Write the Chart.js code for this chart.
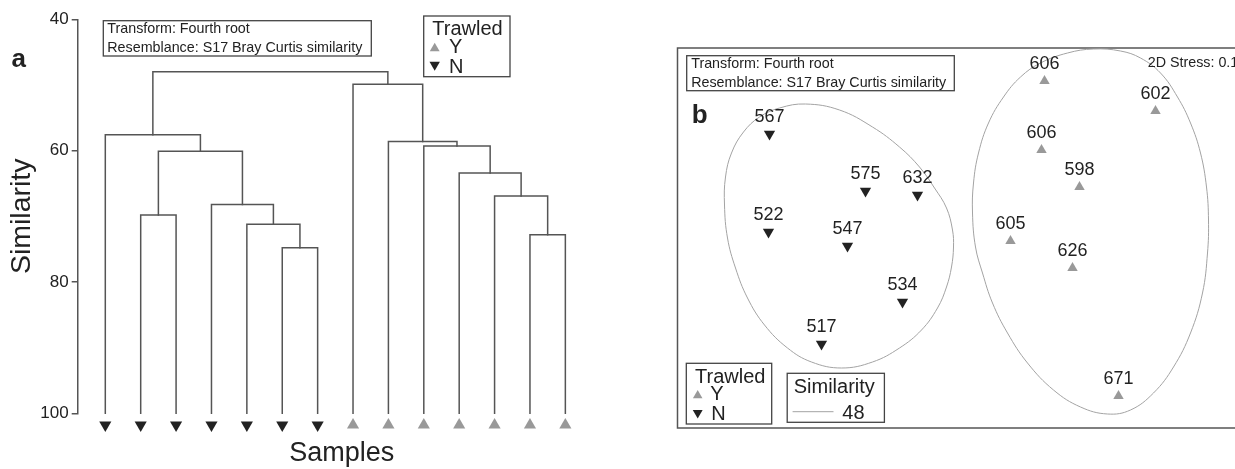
<!DOCTYPE html>
<html>
<head>
<meta charset="utf-8">
<script src="https://cdn.jsdelivr.net/npm/chart.js@4.4.1/dist/chart.umd.min.js"></script>
<style>
html,body{margin:0;padding:0;background:#fff;overflow:hidden;}
#wrap{position:relative;width:1235px;height:469px;overflow:hidden;background:#fff;}
canvas{position:absolute;top:0;}
</style>
</head>
<body>
<div id="wrap">
<canvas id="ca" width="640" height="469" style="left:0"></canvas>
<canvas id="cb" width="668" height="469" style="left:640px"></canvas>
</div>
<script>
// ---------- Panel a: dendrogram data ----------
const leafTrawled = ['N','N','N','N','N','N','N','Y','Y','Y','Y','Y','Y','Y'];
// merges: negative = leaf index (1-based, in plot order), positive = earlier merge (1-based)
const mergeA   = [-6, -5, -4, -2, 4, -1, -13, -12, -11, -10, -9, -8, 6];
const mergeB   = [-7,  1,  2, -3, 3,  5, -14,   7,   8,   9, 10, 11, 12];
const mergeSim = [74.8, 71.2, 68.2, 69.8, 60.1, 57.6, 72.8, 66.9, 63.4, 59.3, 58.6, 49.9, 48.0];
const simTicks = [40, 60, 80, 100];

// ---------- Panel b: nMDS data ----------
const mdsLabelsN = ['567','575','632','522','547','534','517'];
const mdsXN = [-1.88, -0.92, -0.40, -1.89, -1.10, -0.55, -1.36];
const mdsYN = [ 1.04,  0.47,  0.43,  0.06, -0.08, -0.64, -1.06];
const mdsLabelsY = ['606','602','606','598','605','626','671'];
const mdsXY = [0.87, 1.98, 0.84, 1.22, 0.53, 1.15, 1.61];
const mdsYY = [1.57, 1.27, 0.88, 0.51, -0.03, -0.30, -1.58];
const contourLevel = 48;
const contour1X = [-1.52,-1.18,-0.85,-0.58,-0.38,-0.23,-0.11,-0.05,-0.04,-0.06,-0.11,-0.20,-0.36,-0.58,-0.85,-1.16,-1.46,-1.70,-1.93,-2.10,-2.22,-2.30,-2.33,-2.32,-2.26,-2.14,-1.98,-1.78];
const contour1Y = [ 1.34, 1.28, 1.11, 0.91, 0.71, 0.50, 0.30, 0.08,-0.09,-0.29,-0.49,-0.70,-0.92,-1.10,-1.24,-1.30,-1.24,-1.10,-0.87,-0.60,-0.30, 0.00, 0.33, 0.61, 0.85, 1.06, 1.21, 1.30];
const contour2X = [1.36,1.63,1.83,2.03,2.20,2.33,2.43,2.49,2.51,2.50,2.45,2.33,2.16,1.96,1.73,1.50,1.23,0.96,0.70,0.50,0.35,0.25,0.18,0.15,0.16,0.21,0.31,0.46,0.63,0.83,1.10];
const contour2Y = [1.89,1.87,1.80,1.65,1.41,1.15,0.85,0.51,0.18,-0.15,-0.55,-0.95,-1.29,-1.55,-1.72,-1.76,-1.69,-1.52,-1.25,-0.95,-0.65,-0.35,-0.09,0.25,0.55,0.85,1.15,1.41,1.61,1.75,1.85];

const FONT = '"Liberation Sans", Arial, Helvetica, sans-serif';
const INK = '#222';
const LINE = '#555';
const GREY_TRI = '#999';
const CONTOUR = '#a3a3a3';

function tri(ctx, x, y, r, down, color) {
  ctx.save();
  ctx.fillStyle = color;
  ctx.beginPath();
  const s = down ? -1 : 1;
  ctx.moveTo(x, y - s * r);
  ctx.lineTo(x + 0.866 * r, y + s * 0.5 * r);
  ctx.lineTo(x - 0.866 * r, y + s * 0.5 * r);
  ctx.closePath();
  ctx.fill();
  ctx.restore();
}
function box(ctx, x0, y0, x1, y1) {
  ctx.save();
  ctx.strokeStyle = '#444';
  ctx.lineWidth = 1.3;
  ctx.strokeRect(x0, y0, x1 - x0, y1 - y0);
  ctx.restore();
}
function txt(ctx, s, x, y, size, bold, align) {
  ctx.save();
  ctx.fillStyle = INK;
  ctx.font = (bold ? 'bold ' : '') + size + 'px ' + FONT;
  ctx.textAlign = align || 'left';
  ctx.textBaseline = 'alphabetic';
  ctx.fillText(s, x, y);
  ctx.restore();
}

// ---------- build dendrogram datasets ----------
const mergePos = [];
function nodeX(id) { return id < 0 ? -id : mergePos[id - 1]; }
function nodeH(id) { return id < 0 ? 100 : mergeSim[id - 1]; }
const dendroSets = [];
mergeSim.forEach((s, k) => {
  const a = mergeA[k], b = mergeB[k];
  const xa = nodeX(a), xb = nodeX(b);
  mergePos[k] = (xa + xb) / 2;
  dendroSets.push({
    type: 'line',
    data: [{x: xa, y: nodeH(a)}, {x: xa, y: s}, {x: xb, y: s}, {x: xb, y: nodeH(b)}],
    borderColor: LINE, borderWidth: 1.5, pointRadius: 0, tension: 0, fill: false,
    borderCapStyle: 'square', clip: false
  });
});
const markerSim = 101.8;

const annotA = {
  id: 'annotA',
  afterDatasetsDraw(chart) {
    const ctx = chart.ctx;
    const sx = chart.scales.x, sy = chart.scales.y;
    // leaf symbols below the axis (outside chart area, so drawn here via the scales)
    leafTrawled.forEach((t, i) => {
      const px = sx.getPixelForValue(i + 1);
      const py = sy.getPixelForValue(markerSim);
      if (t === 'N') tri(ctx, px, py, 7, true, INK);
      else tri(ctx, px, py, 7, false, GREY_TRI);
    });
  },
  afterDraw(chart) {
    const ctx = chart.ctx;
    txt(ctx, 'a', 11.5, 66.7, 26, true);
    box(ctx, 103.3, 20.7, 371.3, 56);
    txt(ctx, 'Transform: Fourth root', 107.3, 33.3, 14.3);
    txt(ctx, 'Resemblance: S17 Bray Curtis similarity', 107.3, 51.7, 14.3);
    box(ctx, 423.7, 16, 510, 76.7);
    txt(ctx, 'Trawled', 432.3, 35, 20);
    tri(ctx, 434.7, 48.4, 5.7, false, GREY_TRI);
    txt(ctx, 'Y', 449, 53.3, 20);
    tri(ctx, 434.7, 64.7, 6, true, INK);
    txt(ctx, 'N', 449, 72.7, 20);
  }
};

new Chart(document.getElementById('ca'), {
  type: 'scatter',
  data: {
    datasets: [...dendroSets]
  },
  options: {
    responsive: false, animation: false, devicePixelRatio: 1,
    layout: {padding: {left: 0, top: 19.3, right: 34.3, bottom: 0}},
    plugins: {legend: {display: false}, tooltip: {enabled: false}},
    scales: {
      x: {
        type: 'linear', min: 0.22, max: 15.14,
        ticks: {display: false}, grid: {display: false}, border: {display: false},
        title: {display: true, text: 'Samples', color: INK, font: {family: FONT, size: 27, lineHeight: 1}, padding: {top: 0, bottom: 1.5}},
        afterFit(s) { s.height = 55.7; }
      },
      y: {
        type: 'linear', min: 40, max: 100, reverse: true,
        afterBuildTicks(s) { s.ticks = simTicks.map(v => ({value: v})); },
        ticks: {color: INK, font: {family: FONT, size: 17}, padding: 3},
        grid: {drawOnChartArea: false, drawTicks: true, tickLength: 6, color: LINE, lineWidth: 1.5},
        border: {display: true, color: LINE, width: 1.5},
        title: {display: true, text: 'Similarity', color: INK, font: {family: FONT, size: 28.5, lineHeight: 1}, padding: {top: 8.25, bottom: 0}},
        afterFit(s) { s.width = 77.7; }
      }
    }
  },
  plugins: [annotA]
});

// ---------- Panel b ----------
function closedLoop(xs, ys) {
  const n = xs.length;
  const pts = xs.map((x, i) => ({x: x, y: ys[i]}));
  return [pts[n - 1], ...pts, pts[0], pts[1]];
}
function contourSet(xs, ys) {
  const d = closedLoop(xs, ys);
  const last = d.length - 1;
  return {
    type: 'line', data: d, showLine: true, pointRadius: 0, tension: 0.4,
    borderColor: CONTOUR, borderWidth: 1, fill: false, clip: false, capBezierPoints: false,
    segment: {borderColor: c => (c.p0DataIndex === 0 || c.p1DataIndex === last) ? 'rgba(0,0,0,0)' : CONTOUR}
  };
}
const ptsN = mdsXN.map((x, i) => ({x: x, y: mdsYN[i]}));
const ptsY = mdsXY.map((x, i) => ({x: x, y: mdsYY[i]}));

const annotB = {
  id: 'annotB',
  beforeDatasetsDraw(chart) {
    const ctx = chart.ctx, a = chart.chartArea;
    ctx.save();
    ctx.strokeStyle = LINE; ctx.lineWidth = 1.5;
    ctx.strokeRect(a.left, a.top, a.right - a.left, a.bottom - a.top);
    ctx.restore();
  },
  afterDatasetsDraw(chart) {
    const ctx = chart.ctx;
    // point labels
    const lab = [null, null, mdsLabelsN, mdsLabelsY];
    [2, 3].forEach(di => {
      chart.getDatasetMeta(di).data.forEach((el, j) => {
        txt(ctx, lab[di][j], el.x, el.y - 12, 18, false, 'center');
      });
    });
    ctx.save();
    ctx.translate(-640, 0);
    box(ctx, 686.7, 55.7, 954.3, 90.7);
    txt(ctx, 'Transform: Fourth root', 691.2, 68.3, 14.3);
    txt(ctx, 'Resemblance: S17 Bray Curtis similarity', 691.2, 86.7, 14.3);
    txt(ctx, '2D Stress: 0.1', 1147.7, 66.7, 14.3);
    txt(ctx, 'b', 691.7, 123.3, 26, true);
    box(ctx, 686.3, 363.3, 771.7, 424);
    txt(ctx, 'Trawled', 695, 382.7, 20);
    tri(ctx, 697.7, 395.5, 5.5, false, GREY_TRI);
    txt(ctx, 'Y', 710.2, 400, 20);
    tri(ctx, 697.7, 412.8, 5.7, true, INK);
    txt(ctx, 'N', 711.3, 420, 20);
    box(ctx, 787.2, 373.3, 884.4, 422.3);
    txt(ctx, 'Similarity', 793.7, 393.3, 20);
    ctx.strokeStyle = CONTOUR; ctx.lineWidth = 1;
    ctx.beginPath(); ctx.moveTo(792.6, 411.7); ctx.lineTo(833.5, 411.7); ctx.stroke();
    txt(ctx, String(contourLevel), 842.3, 419, 20);
    ctx.restore();
  }
};

new Chart(document.getElementById('cb'), {
  type: 'scatter',
  data: {
    datasets: [
      contourSet(contour1X, contour1Y),
      contourSet(contour2X, contour2Y),
      {data: ptsN, pointStyle: 'triangle', rotation: 180, pointRadius: 6.5, pointBackgroundColor: INK, pointBorderWidth: 0, showLine: false, clip: false},
      {data: ptsY, pointStyle: 'triangle', rotation: 0, pointRadius: 6, pointBackgroundColor: GREY_TRI, pointBorderWidth: 0, showLine: false, clip: false}
    ]
  },
  options: {
    responsive: false, animation: false, devicePixelRatio: 1,
    layout: {padding: {left: 37.5, top: 48, right: 10.5, bottom: 41}},
    plugins: {legend: {display: false}, tooltip: {enabled: false}},
    scales: {
      x: {type: 'linear', min: -2.8, max: 3.4, display: false},
      y: {type: 'linear', min: -1.9, max: 1.9, display: false}
    }
  },
  plugins: [annotB]
});
</script>
</body>
</html>
